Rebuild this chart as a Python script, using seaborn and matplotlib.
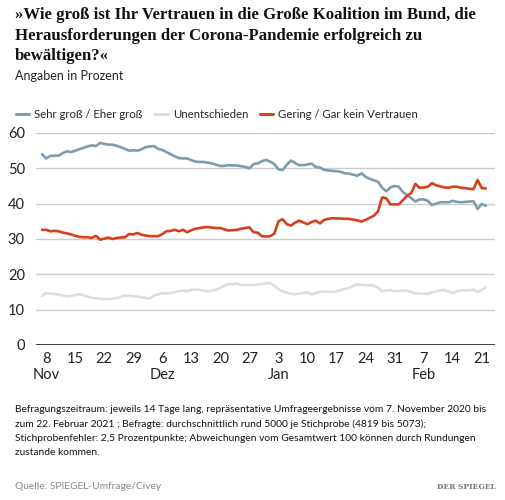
import matplotlib
matplotlib.use("Agg")
import matplotlib.pyplot as plt
import seaborn as sns
import pandas as pd
from matplotlib.lines import Line2D

start_date = "2020-11-07"
end_date = "2021-02-22"

sehr_gross = [54.0, 52.8, 53.5, 53.6, 53.6, 54.3, 54.8, 54.6, 55.0, 55.4,
              55.8, 56.2, 56.5, 56.3, 57.2, 56.9, 56.7, 56.7, 56.4, 56.0,
              55.5, 55.0, 55.1, 55.0, 55.4, 56.0, 56.2, 56.3, 55.5, 55.2,
              54.6, 54.0, 53.4, 52.9, 52.8, 52.8, 52.3, 51.9, 51.8, 51.8,
              51.6, 51.4, 51.0, 50.7, 50.7, 50.9, 50.8, 50.8, 50.6, 50.4,
              50.0, 51.2, 51.4, 52.0, 52.4, 51.9, 51.2, 49.7, 49.5, 51.0,
              52.2, 51.5, 50.9, 50.9, 51.1, 51.3, 50.4, 50.2, 49.6, 49.4,
              49.3, 49.2, 49.0, 48.6, 48.5, 48.2, 47.9, 48.6, 47.6, 47.0,
              46.6, 46.2, 44.5, 43.5, 44.6, 45.0, 44.8, 43.3, 42.4, 41.6,
              40.6, 41.2, 41.2, 40.8, 39.6, 40.0, 40.4, 40.4, 40.4, 40.8,
              40.5, 40.4, 40.5, 40.6, 40.7, 38.5, 39.9, 39.4]

unentschieden = [13.9, 14.7, 14.5, 14.4, 14.3, 14.0, 13.7, 13.9, 14.1, 14.4,
                 14.1, 13.7, 13.4, 13.2, 13.1, 13.0, 13.0, 13.1, 13.3, 13.6,
                 14.0, 13.9, 13.8, 13.7, 13.5, 13.3, 13.2, 14.0, 14.3, 14.7,
                 14.5, 14.8, 14.9, 15.3, 15.4, 15.2, 15.6, 15.7, 15.6, 15.3,
                 15.2, 15.4, 15.7, 16.2, 16.8, 17.3, 17.2, 17.4, 17.0, 17.0,
                 17.0, 17.0, 17.1, 17.3, 17.4, 17.5, 16.8, 15.8, 15.2, 14.8,
                 14.5, 14.4, 14.5, 14.7, 14.9, 14.3, 14.7, 15.0, 15.1, 15.1,
                 15.0, 15.2, 15.6, 15.9, 16.1, 16.8, 17.1, 17.0, 16.9, 16.9,
                 16.8, 16.2, 15.2, 15.4, 15.5, 15.3, 15.3, 15.4, 15.4, 15.0,
                 14.6, 14.6, 14.5, 14.5, 14.9, 15.2, 15.4, 15.6, 15.1, 14.7,
                 15.2, 15.5, 15.5, 15.5, 15.7, 15.0, 15.6, 16.3]

gering = [32.6, 32.6, 32.2, 32.3, 32.2, 31.8, 31.6, 31.3, 30.9, 30.6,
          30.5, 30.5, 30.3, 30.9, 29.8, 30.1, 30.4, 30.0, 30.3, 30.4,
          30.5, 31.4, 31.3, 31.7, 31.2, 31.0, 30.8, 30.8, 30.8, 31.4,
          32.2, 32.3, 32.6, 32.2, 32.6, 31.9, 32.5, 32.9, 33.1, 33.3,
          33.4, 33.2, 33.1, 33.1, 32.7, 32.4, 32.5, 32.6, 32.9, 33.1,
          33.3, 31.9, 31.8, 30.8, 30.7, 30.8, 31.5, 35.0, 35.6, 34.2,
          33.8, 34.6, 35.2, 34.7, 34.2, 34.8, 35.2, 34.4, 35.4, 35.7,
          35.9, 35.8, 35.8, 35.7, 35.7, 35.5, 35.3, 34.9, 35.4, 36.0,
          36.6, 37.8, 41.8, 41.5, 39.8, 39.8, 39.8, 41.0, 42.2, 43.0,
          45.6, 44.5, 44.6, 44.8, 45.8, 45.2, 44.9, 44.6, 44.5, 44.8,
          44.8, 44.5, 44.4, 44.2, 44.1, 46.7, 44.4, 44.3]

series_names = ["Sehr groß / Eher groß", "Unentschieden", "Gering / Gar kein Vertrauen"]
colors = ["#7d9caf", "#dedede", "#d8401c"]

tick_dates = ["2020-11-08", "2020-11-15", "2020-11-22", "2020-11-29", "2020-12-06",
              "2020-12-13", "2020-12-20", "2020-12-27", "2021-01-03", "2021-01-10",
              "2021-01-17", "2021-01-24", "2021-01-31", "2021-02-07", "2021-02-14",
              "2021-02-21"]
tick_labels = ["8\nNov", "15", "22", "29", "6\nDez", "13", "20", "27", "3\nJan", "10",
               "17", "24", "31", "7\nFeb", "14", "21"]
y_ticks = [0, 10, 20, 30, 40, 50, 60]

dates = pd.date_range(start_date, end_date, freq="D")
df = pd.DataFrame({"Datum": dates,
                   series_names[0]: sehr_gross,
                   series_names[1]: unentschieden,
                   series_names[2]: gering})
long = df.melt(id_vars="Datum", var_name="Serie", value_name="Wert")

sns.set_style("white")
SANS = ["Lato", "DejaVu Sans"]
plt.rcParams["font.family"] = SANS

W, H = 506, 500
fig = plt.figure(figsize=(W / 100, H / 100), dpi=100)

def fx(px):
    return px / W

def fy(py):
    return 1 - py / H

renderer = fig.canvas.get_renderer()

def fit_width(txt, target_px):
    w = txt.get_window_extent(renderer=renderer).width
    txt.set_fontsize(txt.get_fontsize() * target_px / w)

ax = fig.add_axes([fx(36), fy(345), fx(495) - fx(36), fy(133) - fy(345)])

sns.lineplot(data=long, x="Datum", y="Wert", hue="Serie", hue_order=series_names,
             palette=colors, linewidth=1.9, ax=ax, legend=False)

for line, z in zip(ax.get_lines(), [3, 2, 4]):
    line.set_zorder(z)
    line.set_solid_joinstyle("round")

x0 = pd.Timestamp(start_date) - pd.Timedelta(days=1.45)
x1 = pd.Timestamp(end_date) + pd.Timedelta(days=2.2)
ax.set_xlim(x0, x1)
ax.set_ylim(0, 60)
ax.set_yticks(y_ticks)
ax.set_yticklabels([str(v) for v in y_ticks])
ax.set_xticks(pd.to_datetime(tick_dates))
ax.set_xticklabels(tick_labels)
ax.set_xlabel("")
ax.set_ylabel("")
for s in ax.spines.values():
    s.set_visible(False)
ax.grid(axis="y", color="#cccccc", linewidth=1.0)
ax.grid(axis="x", visible=False)
ax.axhline(0, color="#222222", linewidth=1.2, zorder=5)
ax.tick_params(axis="both", length=0, labelsize=10.5, colors="#222222")
ax.tick_params(axis="y", pad=8)
ax.tick_params(axis="x", pad=5)
for lab in ax.get_xticklabels():
    lab.set_linespacing(1.2)

# Title
title = ("»Wie groß ist Ihr Vertrauen in die Große Koalition im Bund, die\n"
         "Herausforderungen der Corona-Pandemie erfolgreich zu\n"
         "bewältigen?«")
t = fig.text(fx(15), fy(7), title, ha="left", va="top", fontsize=12,
             fontweight="bold", family=["Liberation Serif", "DejaVu Serif"],
             color="#111111", linespacing=1.38)
fit_width(t, 458)
fig.text(fx(15), fy(70), "Angaben in Prozent", ha="left", va="top",
         fontsize=9, color="#222222")

# Legend
handles = [Line2D([0], [0], color=c, linewidth=2.2) for c in colors]
fig.legend(handles, series_names, loc="upper left",
           bbox_to_anchor=(fx(11), fy(104)), ncol=3, frameon=False,
           fontsize=8.2, handlelength=1.2, handletextpad=0.45,
           columnspacing=1.0, borderaxespad=0)

foot = ("Befragungszeitraum: jeweils 14 Tage lang, repräsentative Umfrageergebnisse vom 7. November 2020 bis\n"
        "zum 22. Februar 2021 ; Befragte: durchschnittlich rund 5000 je Stichprobe (4819 bis 5073);\n"
        "Stichprobenfehler: 2,5 Prozentpunkte; Abweichungen vom Gesamtwert 100 können durch Rundungen\n"
        "zustande kommen.")
ft = fig.text(fx(15), fy(405), foot, ha="left", va="top", fontsize=8,
              color="#111111", linespacing=1.72)
fit_width(ft, 475)
fig.text(fx(15), fy(482), "Quelle: SPIEGEL-Umfrage/Civey", ha="left", va="top",
         fontsize=ft.get_fontsize(), color="#888888")
sp = fig.text(fx(496), fy(483), "DER SPIEGEL", ha="right", va="top", fontsize=7,
              fontweight="bold", family=["DejaVu Serif"], color="#777777")
fit_width(sp, 59)

fig.savefig("out.png", dpi=100, facecolor="white")
